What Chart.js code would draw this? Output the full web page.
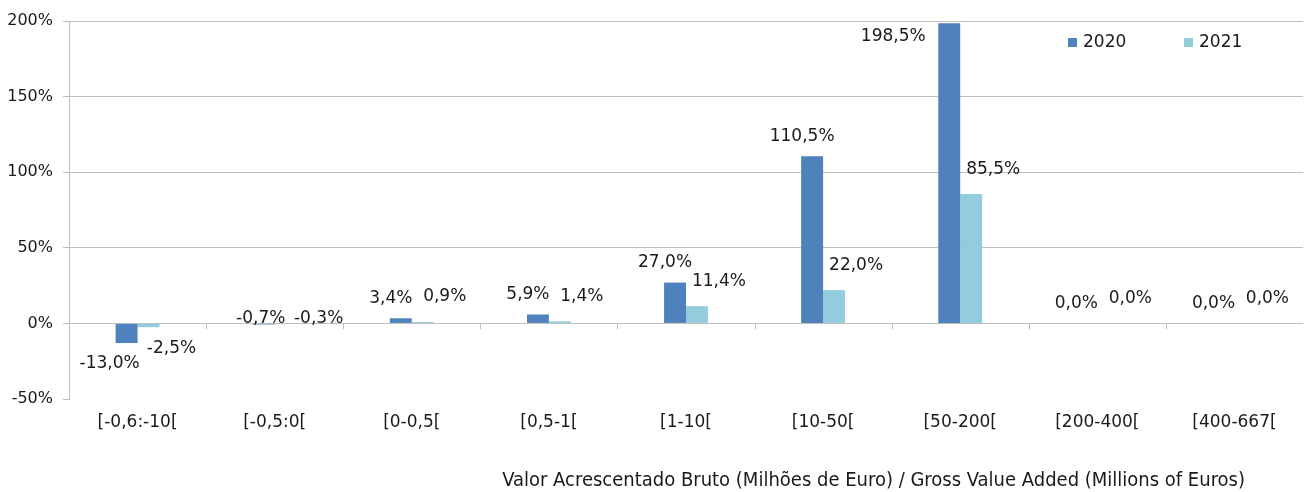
<!DOCTYPE html>
<html>
<head>
<meta charset="utf-8">
<script src="https://cdn.jsdelivr.net/npm/chart.js@4"></script>
<style>
  html, body { margin: 0; padding: 0; background: #fff; }
  #wrap { width: 1311px; height: 492px; }
</style>
</head>
<body>
<div id="wrap"><canvas id="vabChart"></canvas></div>
<script>
// Categories and values (percent)
const categories = ['[-0,6:-10[', '[-0,5:0[', '[0-0,5[', '[0,5-1[', '[1-10[', '[10-50[', '[50-200[', '[200-400[', '[400-667['];
const values2020 = [-13.0, -0.7, 3.4, 5.9, 27.0, 110.5, 198.5, 0.0, 0.0];
const values2021 = [-2.5, -0.3, 0.9, 1.4, 11.4, 22.0, 85.5, 0.0, 0.0];
const seriesNames = ['2020', '2021'];
const yTicks = [-50, 0, 50, 100, 150, 200];

const FONT = '"DejaVu Sans", sans-serif';
const TEXT = '#1a1a1a';
const GRID = '#bfbfbf';

function fmt(v) {
    return v.toFixed(1).replace('.', ',') + '%';
}

// Data labels, x-axis tick marks, legend and axis title
const decorPlugin = {
    id: 'decor',
    afterDatasetsDraw(chart) {
        const ctx = chart.ctx;
        const area = chart.chartArea;
        const x = chart.scales.x;
        const y = chart.scales.y;
        const zero = y.getPixelForValue(0);
        ctx.save();

        // tick marks at category boundaries on the zero line
        ctx.strokeStyle = GRID;
        ctx.lineWidth = 1;
        for (let i = 1; i < categories.length; i++) {
            const px = Math.round((x.getPixelForValue(i - 1) + x.getPixelForValue(i)) / 2) + 0.5;
            ctx.beginPath();
            ctx.moveTo(px, zero);
            ctx.lineTo(px, zero + 6);
            ctx.stroke();
        }

        // value labels
        ctx.font = '17px ' + FONT;
        ctx.fillStyle = TEXT;
        ctx.textAlign = 'center';
        ctx.textBaseline = 'middle';
        chart.data.datasets.forEach((ds, di) => {
            chart.getDatasetMeta(di).data.forEach((bar, i) => {
                const v = ds.data[i];
                let lx, ly;
                if (v < -1) {
                    lx = bar.x + (di === 0 ? -17 : 23);
                    ly = bar.y + 21;
                } else if (v < 0) {
                    lx = bar.x + (di === 0 ? -3 : 33);
                    ly = zero - 5;
                } else if (di === 0) {
                    lx = bar.x - 10;
                    ly = bar.y - 20;
                    if (ly < area.top + 12) {
                        lx = bar.x - 56;
                        ly = bar.y + 13;
                    }
                } else {
                    lx = bar.x + 22;
                    ly = bar.y - 25;
                }
                ctx.fillText(fmt(v), lx, ly);
            });
        });

        // legend
        ctx.textAlign = 'left';
        const legX = [1068, 1184];
        chart.data.datasets.forEach((ds, di) => {
            ctx.fillStyle = ds.backgroundColor;
            ctx.fillRect(legX[di], 38, 9, 9);
            ctx.fillStyle = TEXT;
            ctx.fillText(ds.label, legX[di] + 15, 43);
        });

        // axis title
        ctx.textAlign = 'right';
        ctx.font = '20px "DejaVu Sans Condensed", "Liberation Sans Narrow", sans-serif';
        ctx.fillText('Valor Acrescentado Bruto (Milhões de Euro) / Gross Value Added (Millions of Euros)', 1245, 481);
        ctx.restore();
    }
};

const ctx = document.getElementById('vabChart').getContext('2d');
new Chart(ctx, {
    type: 'bar',
    data: {
        labels: categories,
        datasets: [
            { label: seriesNames[0], data: values2020, backgroundColor: '#4f81bd' },
            { label: seriesNames[1], data: values2021, backgroundColor: '#93cddd' }
        ]
    },
    options: {
        responsive: true,
        maintainAspectRatio: false,
        animation: false,
        datasets: {
            bar: { categoryPercentage: 0.32, barPercentage: 1.0 }
        },
        layout: { padding: { top: 21, right: 8, left: 0, bottom: 0 } },
        plugins: {
            legend: { display: false },
            tooltip: { enabled: false }
        },
        scales: {
            x: {
                grid: { display: false, drawTicks: false },
                border: { display: false },
                ticks: {
                    color: TEXT,
                    font: { family: FONT, size: 17 },
                    padding: 13,
                    maxRotation: 0
                },
                afterFit: s => { s.height = 93; }
            },
            y: {
                min: -50,
                max: 200,
                afterBuildTicks: s => { s.ticks = yTicks.map(v => ({ value: v })); },
                grid: {
                    color: c => (c.tick && c.tick.value === -50 ? 'rgba(0,0,0,0)' : GRID),
                    tickColor: GRID,
                    tickLength: 6
                },
                border: { display: true, color: GRID },
                ticks: {
                    color: TEXT,
                    font: { family: FONT, size: 16 },
                    padding: 10,
                    callback: v => v + '%'
                },
                afterFit: s => { s.width = 69; }
            }
        }
    },
    plugins: [decorPlugin]
});
</script>
</body>
</html>
